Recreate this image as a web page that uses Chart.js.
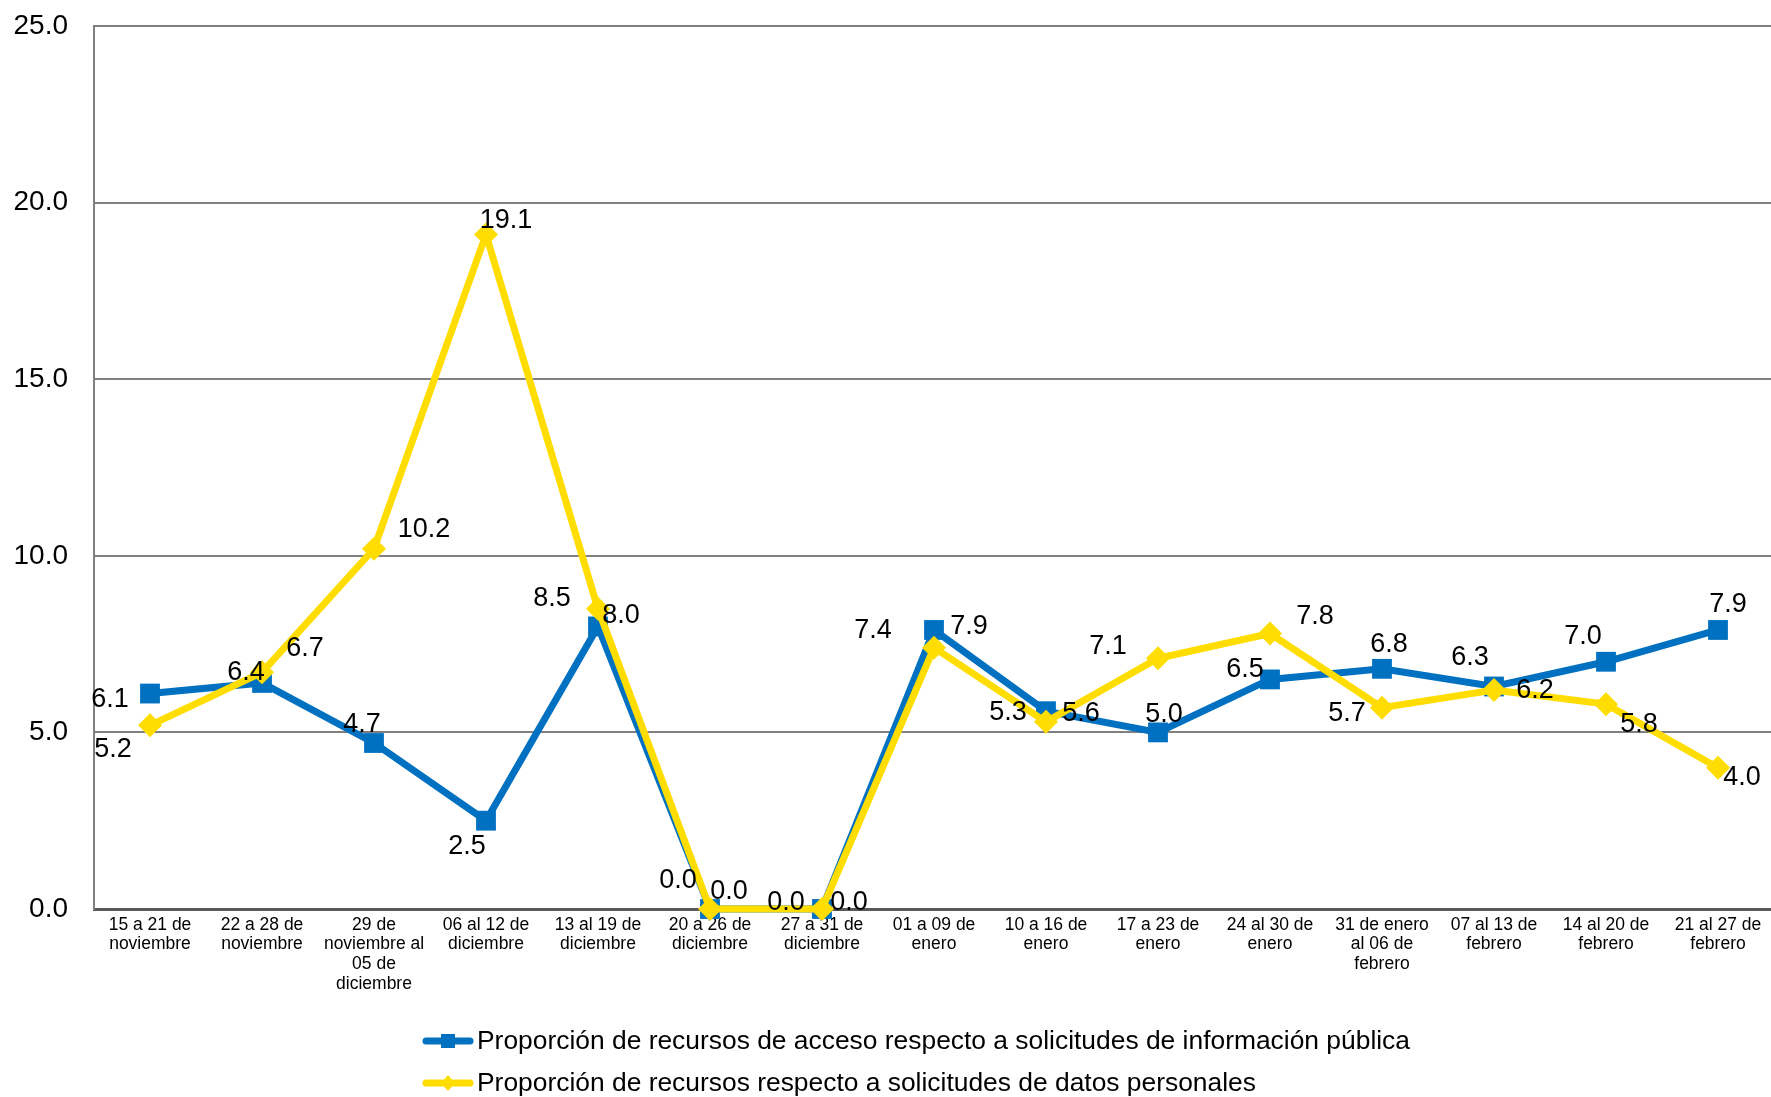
<!DOCTYPE html>
<html>
<head>
<meta charset="utf-8">
<script src="https://cdn.jsdelivr.net/npm/chart.js@4/dist/chart.umd.min.js"></script>
<style>
  html, body { margin: 0; padding: 0; background: #fff; overflow: hidden; }
  #wrap { width: 1774px; height: 1097px; position: relative; }
</style>
</head>
<body>
<div id="wrap"><canvas id="chart"></canvas></div>
<script>
// categories (weeks)
const weeks = [
  ['15 a 21 de', 'noviembre'],
  ['22 a 28 de', 'noviembre'],
  ['29 de', 'noviembre al', '05 de', 'diciembre'],
  ['06 al 12 de', 'diciembre'],
  ['13 al 19 de', 'diciembre'],
  ['20 a 26 de', 'diciembre'],
  ['27 a 31 de', 'diciembre'],
  ['01 a 09 de', 'enero'],
  ['10 a 16 de', 'enero'],
  ['17 a 23 de', 'enero'],
  ['24 al 30 de', 'enero'],
  ['31 de enero', 'al 06 de', 'febrero'],
  ['07 al 13 de', 'febrero'],
  ['14 al 20 de', 'febrero'],
  ['21 al 27 de', 'febrero']
]

const accesoValues = [6.1, 6.4, 4.7, 2.5, 8.0, 0.0, 0.0, 7.9, 5.6, 5.0, 6.5, 6.8, 6.3, 7.0, 7.9]
const datosValues = [5.2, 6.7, 10.2, 19.1, 8.5, 0.0, 0.0, 7.4, 5.3, 7.1, 7.8, 5.7, 6.2, 5.8, 4.0]

const yTicks = [0, 5, 10, 15, 20, 25]

// where each value label sits relative to its marker (px)
const accesoLabelOffset = [[-40,6],[-16,-10],[-12,-18],[-19,26],[23,-11],[-32,-28],[-36,-6],[35,-3],[35,2],[6,-18],[-25,-10],[7,-24],[-24,-29],[-23,-25],[10,-25]]
const datosLabelOffset = [[-37,24],[43,-24],[50,-19],[20,-14],[-46,-10],[19,-17],[27,-6],[-61,-17],[-38,-9],[-50,-12],[45,-17],[-35,6],[41,1],[33,20],[24,10]]

const BLUE = '#0070C0'
const YELLOW = '#FFDD00'
const LABEL_FONT = '27px "Liberation Sans", Arial, sans-serif'

// value labels next to each marker
const valueLabels = {
  id: 'valueLabels',
  afterDatasetsDraw(chart) {
    const ctx = chart.ctx
    ctx.save()
    ctx.font = LABEL_FONT
    ctx.fillStyle = '#000'
    ctx.textAlign = 'center'
    ctx.textBaseline = 'middle'
    chart.data.datasets.forEach((ds, i) => {
      const meta = chart.getDatasetMeta(i)
      meta.data.forEach((pt, j) => {
        const off = ds.labelOffset[j]
        ctx.fillText(ds.data[j].toFixed(1), pt.x + off[0], pt.y + off[1])
      })
    })
    ctx.restore()
  }
}

// legend at the bottom, line + marker sample like Excel
const bottomLegend = {
  id: 'bottomLegend',
  afterDraw(chart) {
    const ctx = chart.ctx
    ctx.save()
    chart.data.datasets.forEach((ds, i) => {
      const y = 1041 + i * 42
      const x0 = 426, x1 = 470
      ctx.strokeStyle = ds.borderColor
      ctx.lineWidth = 7
      ctx.lineCap = 'round'
      ctx.beginPath()
      ctx.moveTo(x0, y)
      ctx.lineTo(x1, y)
      ctx.stroke()
      ctx.fillStyle = ds.borderColor
      const cx = (x0 + x1) / 2
      if (ds.pointStyle === 'rect') {
        ctx.fillRect(cx - 7, y - 7, 14, 14)
      } else {
        ctx.beginPath()
        ctx.moveTo(cx, y - 8); ctx.lineTo(cx + 7, y); ctx.lineTo(cx, y + 8); ctx.lineTo(cx - 7, y)
        ctx.closePath(); ctx.fill()
      }
      ctx.fillStyle = '#000'
      ctx.font = '26.4px "Liberation Sans", Arial, sans-serif'
      ctx.textAlign = 'left'
      ctx.textBaseline = 'middle'
      ctx.fillText(ds.label, 477, y + 1)
    })
    ctx.restore()
  }
}

new Chart(document.getElementById('chart'), {
  type: 'line',
  data: {
    labels: weeks,
    datasets: [{
      label: 'Proporción de recursos de acceso respecto a solicitudes de información pública',
      data: accesoValues,
      labelOffset: accesoLabelOffset,
      borderColor: BLUE,
      backgroundColor: BLUE,
      borderWidth: 7,
      pointStyle: 'rect',
      pointRadius: 14,
      pointHoverRadius: 14,
      pointBorderWidth: 0,
      tension: 0,
      clip: false,
      order: 1
    }, {
      label: 'Proporción de recursos respecto a solicitudes de datos personales',
      data: datosValues,
      labelOffset: datosLabelOffset,
      borderColor: YELLOW,
      backgroundColor: YELLOW,
      borderWidth: 7,
      pointStyle: 'rectRot',
      pointRadius: 12,
      pointHoverRadius: 12,
      pointBorderWidth: 0,
      tension: 0,
      clip: false,
      order: 0
    }]
  },
  options: {
    responsive: true,
    maintainAspectRatio: false,
    animation: false,
    layout: { autoPadding: false, padding: { top: 26, right: 0, left: 0, bottom: 0 } },
    plugins: {
      legend: { display: false },
      tooltip: { enabled: false }
    },
    scales: {
      x: {
        offset: true,
        grid: { display: false, drawTicks: false },
        border: { color: '#595959', width: 3 },
        ticks: {
          color: '#000',
          padding: 6,
          maxRotation: 0,
          autoSkip: false,
          font: { family: '"Liberation Sans", Arial', size: 17.5, lineHeight: 1.13 }
        },
        afterFit(scale) {
          scale.height = 188
          scale.paddingLeft = 0
          scale.paddingRight = 0
        }
      },
      y: {
        min: 0,
        max: 25,
        afterBuildTicks(scale) { scale.ticks = yTicks.map(v => ({ value: v })) },
        grid: { color: '#808080', lineWidth: 2, drawTicks: false },
        border: { color: '#808080', width: 2 },
        ticks: {
          color: '#000',
          padding: 26,
          font: { family: '"Liberation Sans", Arial', size: 28 },
          callback: v => v.toFixed(1)
        },
        afterFit(scale) {
          scale.width = 94
          scale.paddingTop = 0
          scale.paddingBottom = 0
        }
      }
    }
  },
  plugins: [valueLabels, bottomLegend]
})
</script>
</body>
</html>
